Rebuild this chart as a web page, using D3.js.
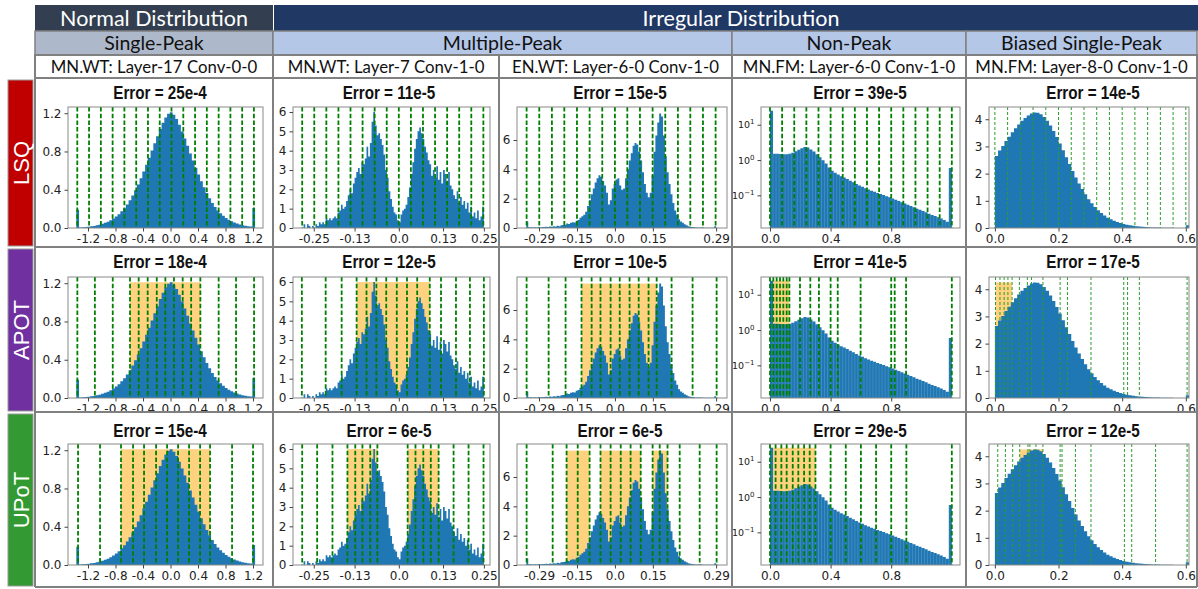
<!DOCTYPE html>
<html>
<head>
<meta charset="utf-8">
<script src="https://cdn.jsdelivr.net/npm/d3@7/dist/d3.min.js"></script>
<style>
  body { margin: 0; background: #fff; }
  svg { display: block; }
</style>
</head>
<body>
<svg id="chart" width="1198" height="589"></svg>
<script>
// ---------------- data ----------------
const methods = ["LSQ", "APOT", "UPoT"];
const methodColors = ["#c00000", "#7030a0", "#339933"];
const groupLabels = ["Normal Distribution", "Irregular Distribution"];
const typeLabels = ["Single-Peak", "Multiple-Peak", "Non-Peak", "Biased Single-Peak"];
const layerLabels = [
  "MN.WT: Layer-17 Conv-0-0", "MN.WT: Layer-7 Conv-1-0", "EN.WT: Layer-6-0 Conv-1-0",
  "MN.FM: Layer-6-0 Conv-1-0", "MN.FM: Layer-8-0 Conv-1-0"
];
const errors = [
  ["25e-4", "11e-5", "15e-5", "39e-5", "14e-5"],
  ["18e-4", "12e-5", "10e-5", "41e-5", "17e-5"],
  ["15e-4", "6e-5", "6e-5", "29e-5", "12e-5"]
];

// histogram densities (bin start, bin width, heights)
const singlePeakStart = -1.37, singlePeakWidth = 0.04;
const singlePeakHist = [
  0.19, 0.006, 0.008, 0.010, 0.013, 0.017, 0.022, 0.028, 0.035, 0.044,
  0.054, 0.066, 0.081, 0.099, 0.12, 0.145, 0.174, 0.207, 0.245, 0.29,
  0.34, 0.395, 0.455, 0.52, 0.59, 0.66, 0.735, 0.81, 0.885, 0.96,
  1.035, 1.10, 1.155, 1.195, 1.21, 1.185, 1.14, 1.08, 1.01, 0.935,
  0.86, 0.78, 0.705, 0.63, 0.56, 0.49, 0.425, 0.365, 0.31, 0.262,
  0.22, 0.184, 0.153, 0.127, 0.105, 0.086, 0.07, 0.057, 0.046, 0.037,
  0.03, 0.024, 0.019, 0.015, 0.21
];
const multiPeakAStart = -0.285, multiPeakAWidth = 0.005;
const multiPeakAHist = [
  0.0, 0.2, 0.0, 0.2, 0.1, 0.0, 0.1, 0.0, 0.2, 0.1,
  0.3, 0.2, 0.3, 0.2, 0.5, 0.4, 0.5, 0.4, 0.5, 0.6,
  0.5, 0.8, 0.9, 1.2, 1.0, 1.1, 1.4, 1.7, 2.0, 1.8,
  2.3, 2.6, 2.9, 3.1, 2.8, 3.4, 3.3, 3.6, 4.2, 3.7,
  4.4, 5.5, 6.0, 5.3, 4.8, 4.9, 4.6, 4.3, 3.8, 3.0,
  2.6, 1.9, 1.5, 1.1, 0.8, 0.7, 0.4, 0.3, 0.7, 0.9,
  1.0, 1.2, 1.6, 2.1, 2.8, 3.4, 4.1, 4.6, 5.0, 5.2,
  4.9, 4.6, 4.2, 3.9, 3.5, 3.3, 2.7, 3.0, 2.6, 3.2,
  2.5, 2.9, 2.3, 3.0, 2.8, 2.4, 2.9, 2.2, 2.0, 1.7,
  1.5, 1.9, 1.3, 1.6, 1.2, 1.4, 1.0, 1.3, 0.8, 1.1,
  0.6, 0.8, 0.5, 0.9, 0.4, 0.6, 1.1
];
const multiPeakBStart = -0.35, multiPeakBWidth = 0.0075;
const multiPeakBHist = [
  0.45, 0.05, 0.05, 0.03, 0.05, 0.04, 0.06, 0.05, 0.07, 0.06,
  0.08, 0.07, 0.1, 0.09, 0.12, 0.1, 0.15, 0.12, 0.18, 0.2,
  0.22, 0.3, 0.28, 0.35, 0.4, 0.38, 0.5, 0.55, 0.7, 0.8,
  0.9, 1.1, 1.5, 1.9, 2.3, 2.7, 3.1, 3.4, 3.6, 3.5,
  3.2, 2.9, 2.4, 1.6, 1.9, 2.7, 3.0, 3.3, 3.4, 2.9,
  2.6, 2.7, 3.4, 4.0, 4.6, 5.1, 5.6, 5.8, 5.7, 5.2,
  4.6, 3.8, 3.0, 2.4, 2.1, 2.4, 3.6, 5.2, 6.3, 7.2,
  7.8, 7.6, 6.3, 4.9, 3.8, 3.0, 2.3, 1.7, 1.2, 0.9,
  0.6, 0.45, 0.35, 0.25, 0.18, 0.12, 0.08, 0.06, 0.05, 0.04,
  0.04, 0.03, 0.03, 0.02, 0.02, 0.02, 0.02, 0.02, 0.02, 0.12
];
const nonPeakStart = 0, nonPeakWidth = 0.02;
const nonPeakHist = [
  25, 1.52, 1.50, 1.48, 1.47, 1.45, 1.52, 1.62, 1.78, 1.95,
  2.15, 2.35, 2.25, 2.0, 1.75, 1.45, 1.2, 0.98, 0.8, 0.62,
  0.5, 0.44, 0.39, 0.35, 0.32, 0.29, 0.26, 0.235, 0.21, 0.19,
  0.175, 0.16, 0.147, 0.136, 0.126, 0.117, 0.109, 0.102, 0.095, 0.088,
  0.081, 0.075, 0.069, 0.064, 0.059, 0.054, 0.05, 0.046, 0.042, 0.039,
  0.036, 0.033, 0.03, 0.028, 0.026, 0.024, 0.022, 0.02, 0.018, 0.6
];
const biasedStart = 0, biasedWidth = 0.01;
const biasedHist = [
  2.65, 2.85, 3.02, 3.2, 3.36, 3.52, 3.67, 3.81, 3.94, 4.05,
  4.14, 4.21, 4.25, 4.24, 4.18, 4.08, 3.94, 3.77, 3.57, 3.35,
  3.11, 2.86, 2.6, 2.35, 2.1, 1.86, 1.64, 1.43, 1.24, 1.06,
  0.91, 0.77, 0.65, 0.55, 0.46, 0.38, 0.32, 0.27, 0.22, 0.18,
  0.15, 0.12, 0.1, 0.08, 0.065, 0.053, 0.043, 0.035, 0.028, 0.023,
  0.018, 0.015, 0.012, 0.01, 0.008, 0.006, 0, 0, 0, 0, 0.1
];

// axis domains and ticks per column
const xDomains = [[-1.491, 1.345], [-0.311, 0.268], [-0.387, 0.443], [-0.0594, 1.254], [-0.0185, 0.61]];
const yDomains = [[0, 1.265], [0, 6.26], [0, 8.25], [0.0119, 31.8], [0, 4.45]];
const xTickValues = [
  [-1.2, -0.8, -0.4, 0, 0.4, 0.8, 1.2],
  [-0.25, -0.13, 0, 0.13, 0.25],
  [-0.3, -0.15, 0, 0.15, 0.4],
  [0, 0.4, 0.8],
  [0, 0.2, 0.4, 0.6]
];
const xTickLabels = [
  ["-1.2", "-0.8", "-0.4", "0.0", "0.4", "0.8", "1.2"],
  ["-0.25", "-0.13", "0.0", "0.13", "0.25"],
  ["-0.29", "-0.15", "0.0", "0.15", "0.29"],
  ["0.0", "0.4", "0.8"],
  ["0.0", "0.2", "0.4", "0.6"]
];
const yTickValues = [[0, 0.4, 0.8, 1.2], [0, 1, 2, 3, 4, 5, 6], [0, 2, 4, 6], [0.1, 1, 10], [0, 1, 2, 3, 4]];
const yTickLabels = [
  ["0.0", "0.4", "0.8", "1.2"],
  ["0", "1", "2", "3", "4", "5", "6"],
  ["0", "2", "4", "6"],
  ["−1", "0", "1"],
  ["0", "1", "2", "3", "4"]
];

// quantization levels [method][column]
const levels = [
  [
    [-1.356, -1.185, -1.013, -0.842, -0.671, -0.499, -0.328, -0.157, 0.014, 0.186, 0.357, 0.528, 0.700, 0.871, 1.042, 1.213],
    [-0.284, -0.2485, -0.213, -0.1775, -0.142, -0.1065, -0.071, -0.0355, 0.0, 0.0355, 0.071, 0.1065, 0.142, 0.1775, 0.213, 0.2485],
    [-0.349, -0.299, -0.249, -0.200, -0.150, -0.100, -0.050, 0.0, 0.049, 0.099, 0.149, 0.199, 0.249, 0.298, 0.348, 0.398],
    [0, 0.08, 0.16, 0.24, 0.32, 0.40, 0.48, 0.56, 0.64, 0.72, 0.80, 0.88, 0.96, 1.04, 1.12, 1.20],
    [0, 0.04, 0.08, 0.12, 0.16, 0.20, 0.24, 0.28, 0.32, 0.36, 0.40, 0.44, 0.48, 0.52, 0.56, 0.60]
  ],
  [
    [-1.355, -1.10, -0.84, -0.589, -0.463, -0.332, -0.20, -0.075, 0.05, 0.177, 0.30, 0.434, 0.70, 0.953, 1.215],
    [-0.285, -0.215, -0.168, -0.124, -0.095, -0.066, -0.037, -0.006, 0.024, 0.054, 0.091, 0.124, 0.168, 0.209, 0.25],
    [-0.349, -0.262, -0.195, -0.132, -0.092, -0.057, -0.017, 0.019, 0.058, 0.094, 0.133, 0.165, 0.224, 0.307, 0.402],
    [0, 0.022, 0.044, 0.066, 0.088, 0.11, 0.128, 0.198, 0.266, 0.323, 0.4, 0.447, 0.598, 0.8, 0.823, 0.898, 1.2],
    [0.002, 0.016, 0.029, 0.041, 0.054, 0.077, 0.102, 0.115, 0.151, 0.205, 0.228, 0.302, 0.405, 0.417, 0.454, 0.604]
  ],
  [
    [-1.345, -1.025, -0.72, -0.545, -0.385, -0.21, -0.05, 0.11, 0.27, 0.43, 0.575, 0.895, 1.2],
    [-0.284, -0.240, -0.195, -0.151, -0.128, -0.107, -0.084, -0.063, 0.026, 0.049, 0.072, 0.094, 0.117, 0.161, 0.205, 0.249],
    [-0.349, -0.246, -0.191, -0.147, -0.1, -0.057, -0.017, 0.023, 0.062, 0.102, 0.149, 0.177, 0.208, 0.256, 0.335, 0.402],
    [0, 0.037, 0.075, 0.11, 0.15, 0.187, 0.225, 0.262, 0.3, 0.4, 0.5, 0.6, 0.7, 0.8, 0.9, 1.2],
    [0.009, 0.033, 0.056, 0.078, 0.104, 0.110, 0.129, 0.151, 0.205, 0.211, 0.253, 0.302, 0.407, 0.430, 0.505, 0.604]
  ]
];

// highlighted (dense-level) ranges [method][column]
const highlights = [
  [[], [], [], [], []],
  [[[-0.589, 0.434]], [[-0.124, 0.091]], [[-0.132, 0.165]], [[0, 0.128]], [[0.002, 0.054]]],
  [[[-0.72, 0.575]], [[-0.151, -0.063], [0.026, 0.117]], [[-0.191, -0.1], [-0.057, 0.102], [0.149, 0.208]], [[0, 0.3]], [[0.078, 0.151]]]
];

// ---------------- layout ----------------
const hists = [
  { start: singlePeakStart, width: singlePeakWidth, values: singlePeakHist },
  { start: multiPeakAStart, width: multiPeakAWidth, values: multiPeakAHist },
  { start: multiPeakBStart, width: multiPeakBWidth, values: multiPeakBHist },
  { start: nonPeakStart, width: nonPeakWidth, values: nonPeakHist },
  { start: biasedStart, width: biasedWidth, values: biasedHist }
];

const colEdges = [35, 273, 499, 732, 966, 1197];
const rowEdges = [78, 247, 412, 587];
const axisX = [[68, 263], [293, 490], [517, 727], [761, 960], [989, 1189]];
const axisY = [[107, 228], [277, 398], [444, 565]];
const titleX = [160, 389, 620, 860, 1093];
const titleY = [99, 268, 437];

const BORDER = "#808080";
const HEAD_FONT = "Lato, 'Noto Sans', sans-serif";
const svg = d3.select("#chart");
const defs = svg.append("defs");

// ---------------- header ----------------
const header = svg.append("g");
header.append("rect").attr("x", 35).attr("y", 5).attr("width", 238).attr("height", 26).attr("fill", "#333f50");
header.append("rect").attr("x", 274).attr("y", 5).attr("width", 924).attr("height", 26).attr("fill", "#203864");
header.append("text").attr("x", 154).attr("y", 25.5).attr("text-anchor", "middle")
  .attr("font-family", HEAD_FONT).attr("font-size", 21.5).attr("fill", "#fff").text(groupLabels[0]);
header.append("text").attr("x", 741).attr("y", 25.5).attr("text-anchor", "middle")
  .attr("font-family", HEAD_FONT).attr("font-size", 21.5).attr("fill", "#fff").text(groupLabels[1]);

const typeSpans = [[35, 273], [273, 732], [732, 966], [966, 1197]];
const typeFills = ["#adb9ca", "#b4c7e7", "#b4c7e7", "#b4c7e7"];
typeSpans.forEach((s, i) => {
  header.append("rect").attr("x", s[0]).attr("y", 31).attr("width", s[1] - s[0]).attr("height", 24)
    .attr("fill", typeFills[i]).attr("stroke", BORDER).attr("stroke-width", 1.5);
  header.append("text").attr("x", (s[0] + s[1]) / 2).attr("y", 50).attr("text-anchor", "middle")
    .attr("font-family", HEAD_FONT).attr("font-size", 19.5).attr("fill", "#111").text(typeLabels[i]);
});
layerLabels.forEach((t, i) => {
  const x0 = colEdges[i], x1 = colEdges[i + 1];
  header.append("rect").attr("x", x0).attr("y", 55).attr("width", x1 - x0).attr("height", 23)
    .attr("fill", "#fff").attr("stroke", BORDER).attr("stroke-width", 2);
  header.append("text").attr("x", (x0 + x1) / 2).attr("y", 72.5).attr("text-anchor", "middle")
    .attr("font-family", HEAD_FONT).attr("font-size", 16.8).attr("fill", "#111").text(t);
});

// ---------------- method labels ----------------
methods.forEach((m, r) => {
  const y0 = rowEdges[r] + 2, y1 = rowEdges[r + 1] - 1;
  svg.append("rect").attr("x", 8).attr("y", y0).attr("width", 25).attr("height", y1 - y0)
    .attr("fill", methodColors[r]).attr("stroke", "#9a9a9a").attr("stroke-width", 1);
  svg.append("text").attr("transform", `translate(28.5,${(y0 + y1) / 2}) rotate(-90)`)
    .attr("text-anchor", "middle").attr("font-family", "'Liberation Sans', Arial, sans-serif")
    .attr("font-size", 22).attr("fill", "#fff").text(m);
});

// ---------------- panels ----------------
function drawPanel(r, c) {
  const cx0 = colEdges[c] + 1, cx1 = colEdges[c + 1] - 1;
  const cy0 = rowEdges[r] + 1, cy1 = rowEdges[r + 1] - 1;
  const clipId = `clip-${r}-${c}`;
  defs.append("clipPath").attr("id", clipId).append("rect")
    .attr("x", cx0).attr("y", cy0).attr("width", cx1 - cx0).attr("height", cy1 - cy0);
  const g = svg.append("g").attr("clip-path", `url(#${clipId})`);

  const [ax0, ax1] = axisX[c];
  const [ay0, ay1] = axisY[r];
  const x = d3.scaleLinear().domain(xDomains[c]).range([ax0, ax1]);
  const y = (c === 3 ? d3.scaleLog() : d3.scaleLinear()).domain(yDomains[c]).range([ay1, ay0]);
  const h = hists[c];
  const peak = d3.max(h.values);

  // highlighted ranges behind the histogram
  g.selectAll(null).data(highlights[r][c]).join("rect")
    .attr("x", d => x(d[0])).attr("width", d => x(d[1]) - x(d[0]))
    .attr("y", y(peak)).attr("height", ay1 - y(peak))
    .attr("fill", "#ffd27f");

  // histogram as a stepped area (one step per bin)
  const steps = h.values.map((v, i) => ({ x: h.start + i * h.width, v }));
  steps.push({ x: h.start + h.values.length * h.width, v: h.values[h.values.length - 1] });
  const area = d3.area().curve(d3.curveStepAfter)
    .x(d => x(d.x)).y0(ay1)
    .y1(d => d.v > 0 ? y(d.v) : ay1);
  g.append("path").attr("d", area(steps)).attr("fill", "#1f77b4");

  // faint bin seams on the log-scale panel
  if (c === 3) {
    g.selectAll(null).data(steps.slice(1, -1)).join("line")
      .attr("x1", d => x(d.x)).attr("x2", d => x(d.x))
      .attr("y1", d => y(d.v)).attr("y2", ay1)
      .attr("stroke", "#ffffff").attr("stroke-opacity", 0.22).attr("stroke-width", 0.7);
  }

  // quantization levels
  const thin = c === 4;
  g.selectAll(null).data(levels[r][c]).join("line")
    .attr("x1", d => x(d)).attr("x2", d => x(d)).attr("y1", ay0).attr("y2", ay1)
    .attr("stroke", thin ? "#2a9d2a" : "#008000")
    .attr("stroke-width", thin ? 1 : 1.8)
    .attr("stroke-dasharray", thin ? "3,2" : "4.5,2.2");

  // frame
  g.append("rect").attr("x", ax0).attr("y", ay0).attr("width", ax1 - ax0).attr("height", ay1 - ay0)
    .attr("fill", "none").attr("stroke", "#8a8a8a").attr("stroke-width", 1);

  // x axis
  const xa = g.append("g").attr("transform", `translate(0,${ay1})`)
    .call(d3.axisBottom(x).tickValues(xTickValues[c]).tickSize(3.5).tickPadding(3)
      .tickFormat((d, i) => xTickLabels[c][i]));
  xa.select(".domain").remove();
  xa.selectAll("line").attr("stroke", "#444");
  xa.selectAll("text").attr("font-family", "'DejaVu Sans', sans-serif").attr("font-size", 12).attr("fill", "#222");

  // y axis
  const ya = g.append("g").attr("transform", `translate(${ax0},0)`)
    .call(d3.axisLeft(y).tickValues(yTickValues[c]).tickSize(3.5).tickPadding(3)
      .tickFormat((d, i) => c === 3 ? "" : yTickLabels[c][i]));
  ya.select(".domain").remove();
  ya.selectAll("line").attr("stroke", "#444");
  ya.selectAll("text").attr("font-family", "'DejaVu Sans', sans-serif").attr("font-size", 12).attr("fill", "#222");
  if (c === 3) {
    ya.selectAll(".tick").each(function (d, i) {
      const t = d3.select(this).select("text").text(null).attr("font-size", 9.5);
      t.append("tspan").text("10");
      t.append("tspan").attr("dy", -4).attr("font-size", 7).text(yTickLabels[c][i]);
    });
  }

  // title
  g.append("text")
    .attr("transform", `translate(${titleX[c]},${titleY[r]}) scale(0.87,1)`)
    .attr("text-anchor", "middle").attr("font-family", "'Liberation Sans', Arial, sans-serif")
    .attr("font-weight", "bold").attr("font-size", 17.5).attr("fill", "#111")
    .text("Error = " + errors[r][c]);
}

for (let r = 0; r < 3; r++) for (let c = 0; c < 5; c++) drawPanel(r, c);

// panel grid lines
const grid = svg.append("g").attr("stroke", BORDER).attr("stroke-width", 2);
colEdges.forEach(xv => grid.append("line").attr("x1", xv).attr("x2", xv).attr("y1", 55).attr("y2", 587));
rowEdges.forEach(yv => grid.append("line").attr("x1", 35).attr("x2", 1197).attr("y1", yv).attr("y2", yv));
</script>
</body>
</html>
